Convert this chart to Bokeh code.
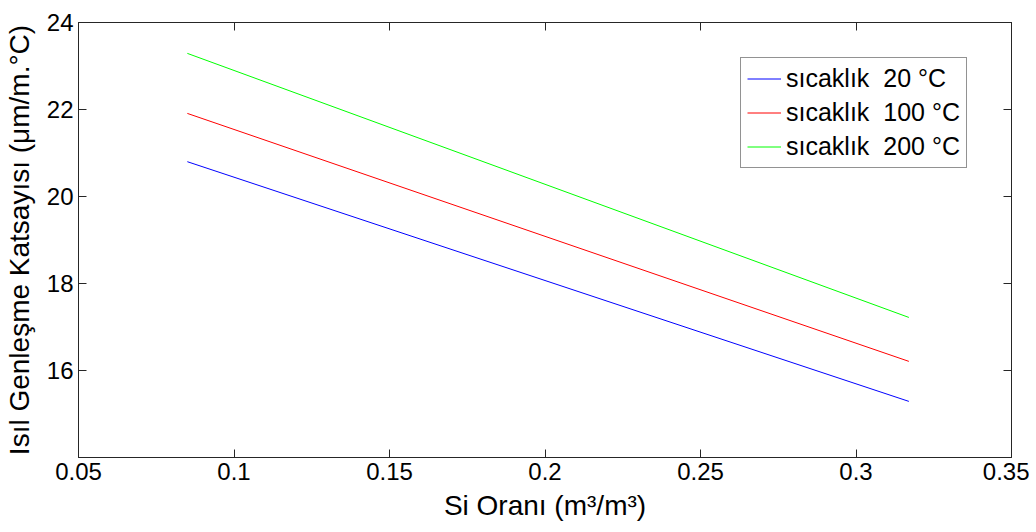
from bokeh.plotting import figure
from bokeh.models import LinearAxis, FixedTicker, Range1d, Legend, LegendItem, CustomJSTickFormatter
from bokeh.embed import file_html
from bokeh.resources import INLINE

x_vals = [0.085, 0.317]
t20 = [20.80, 15.29]
t100 = [21.91, 16.21]
t200 = [23.29, 17.22]
labels = ["sıcaklık  20 °C", "sıcaklık  100 °C", "sıcaklık  200 °C"]
colors = ["#0000ff", "#ff0000", "#00ff00"]
x_ticks = [0.05, 0.1, 0.15, 0.2, 0.25, 0.3, 0.35]
y_ticks = [16, 18, 20, 22, 24]

FONT = "Liberation Sans"

p = figure(frame_width=933, frame_height=435, output_backend="svg", toolbar_location=None,
           x_range=Range1d(0.05, 0.35), y_range=Range1d(14, 24),
           min_border_left=77, min_border_right=18, min_border_top=22, min_border_bottom=67)
p.xgrid.visible = False
p.ygrid.visible = False
p.outline_line_color = "#262626"
p.background_fill_color = "white"
p.border_fill_color = "white"

renderers = []
for ys, c in zip([t20, t100, t200], colors):
    r = p.line(x_vals, ys, line_color=c, line_width=1)
    renderers.append(r)

for ax in [p.xaxis[0], p.yaxis[0]]:
    ax.major_tick_in = 8
    ax.major_tick_out = 0
    ax.minor_tick_in = 0
    ax.minor_tick_out = 0
    ax.axis_line_color = "#262626"
    ax.major_tick_line_color = "#262626"
    ax.major_label_text_font = FONT
    ax.major_label_text_font_size = "24px"
    ax.major_label_text_color = "black"
    ax.axis_label_text_font = FONT
    ax.axis_label_text_font_size = "28px"
    ax.axis_label_text_font_style = "normal"
    ax.axis_label_text_color = "black"

p.xaxis[0].ticker = FixedTicker(ticks=x_ticks)
p.yaxis[0].ticker = FixedTicker(ticks=y_ticks)
p.xaxis[0].formatter = CustomJSTickFormatter(code="return String(parseFloat(tick.toFixed(2)));")
p.xaxis[0].axis_label = "Si Oranı (m³/m³)"
p.yaxis[0].axis_label = "Isıl Genleşme Katsayısı (μm/m.°C)"
p.xaxis[0].major_label_standoff = 5
p.yaxis[0].major_label_standoff = 5
p.xaxis[0].axis_label_standoff = 7
p.yaxis[0].axis_label_standoff = 9

blank = CustomJSTickFormatter(code="return '';")
top = LinearAxis(ticker=FixedTicker(ticks=x_ticks), formatter=blank)
right = LinearAxis(ticker=FixedTicker(ticks=y_ticks), formatter=blank)
for ax in [top, right]:
    ax.major_tick_in = 8
    ax.major_tick_out = 0
    ax.minor_tick_in = 0
    ax.minor_tick_out = 0
    ax.axis_line_color = "#262626"
    ax.major_tick_line_color = "#262626"
    ax.major_label_standoff = 0
p.add_layout(top, "above")
p.add_layout(right, "right")

legend = Legend(items=[LegendItem(label=l, renderers=[r]) for l, r in zip(labels, renderers)],
                location=(662, 289))
legend.label_text_font = FONT
legend.label_text_font_size = "25px"
legend.label_text_color = "black"
legend.border_line_color = "#262626"
legend.border_line_width = 1
legend.glyph_width = 34
legend.glyph_height = 25
legend.label_height = 25
legend.label_standoff = 5
legend.spacing = 5
legend.padding = 6
legend.margin = 0
legend.background_fill_alpha = 1
p.add_layout(legend, "center")

open("out.html", "w").write(file_html(p, INLINE))
